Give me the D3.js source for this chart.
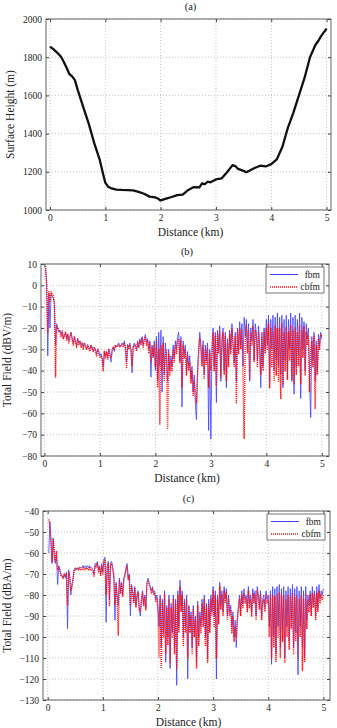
<!DOCTYPE html>
<html>
<head>
<meta charset="utf-8">
<script src="https://cdn.jsdelivr.net/npm/d3@7"></script>
<style>
  html, body { margin: 0; padding: 0; background: #fff; }
  svg { display: block; }
  text { font-family: "Liberation Serif", "DejaVu Serif", serif; fill: #222; }
</style>
</head>
<body>
<svg id="chart" width="337" height="728"></svg>
<script>
// Panel (a): surface profile
const profileKm = [0, 0.05, 0.1, 0.15, 0.2, 0.25, 0.3, 0.35, 0.4, 0.45, 0.5, 0.6, 0.7, 0.8, 0.9, 0.95, 1.0, 1.05,
  1.1, 1.2, 1.3, 1.4, 1.5, 1.6, 1.7, 1.8, 1.9, 1.95, 2.0, 2.1, 2.2, 2.3, 2.4, 2.5, 2.6, 2.7, 2.75, 2.8, 2.85, 2.9,
  3.0, 3.1, 3.2, 3.3, 3.35, 3.4, 3.5, 3.55, 3.6, 3.7, 3.8, 3.9, 4.0, 4.1, 4.2, 4.3, 4.4, 4.5, 4.6, 4.7, 4.8, 4.85, 4.9, 5.0];
const profileHeight = [1855, 1845, 1832, 1818, 1802, 1775, 1745, 1712, 1700, 1680, 1630, 1540, 1452, 1350, 1262, 1200, 1143, 1122,
  1115, 1107, 1105, 1104, 1103, 1095, 1085, 1070, 1066, 1060, 1050, 1060, 1068, 1078, 1080, 1105, 1120, 1118, 1140, 1135, 1148, 1145,
  1160, 1165, 1198, 1235, 1230, 1215, 1205, 1198, 1205, 1220, 1232, 1228, 1240, 1265, 1330, 1430, 1510, 1600, 1690, 1800, 1865, 1885, 1910, 1950];

// Panels (b) and (c): field samples every 0.02 km, starting at 0.02 km
const sampleStepKm = 0.02;
const fieldBfbm = [
  8, 1, -33, -4, -20, -4, -5, -6, -9, -28,
  -18, -20, -22, -21, -23, -22, -25, -24, -22, -25,
  -23, -26, -24, -22, -25, -27, -24, -26, -28, -25,
  -27, -26, -28, -27, -29, -27, -28, -30, -28, -29,
  -30, -28, -29, -31, -29, -30, -32, -30, -31, -33,
  -32, -34, -38, -31, -33, -31, -34, -30, -32, -36,
  -30, -29, -31, -28, -29, -28, -27, -29, -28, -27,
  -28, -26, -29, -36, -28, -29, -27, -30, -41, -29,
  -27, -28, -30, -26, -29, -25, -27, -24, -28, -25,
  -23, -27, -25, -30, -26, -43, -28, -34, -26, -40,
  -24, -45, -22, -38, -21, -50, -24, -42, -27, -35,
  -45, -30, -40, -33, -38, -28, -34, -26, -30, -24,
  -22, -35, -24, -57, -26, -32, -28, -40, -31, -38,
  -33, -44, -38, -50, -42, -55, -63, -40, -30, -22,
  -28, -36, -26, -42, -28, -35, -27, -68, -30, -72,
  -30, -20, -38, -22, -55, -21, -30, -19, -45, -25,
  -20, -40, -22, -48, -25, -35, -21, -30, -18, -27,
  -36, -22, -45, -20, -30, -17, -28, -18, -38, -15,
  -24, -16, -30, -18, -45, -20, -26, -16, -35, -18,
  -22, -35, -19, -28, -48, -22, -38, -20, -30, -16,
  -28, -14, -45, -16, -30, -14, -40, -15, -35, -13,
  -38, -15, -42, -14, -48, -16, -35, -14, -40, -16,
  -30, -13, -45, -15, -51, -14, -38, -16, -33, -13,
  -53, -15, -30, -17, -40, -18, -25, -20, -45, -62,
  -24, -35, -22, -45, -26, -40, -23, -28, -22, -25
];
const fieldBcbfm = [
  9, 0, -22, -3, -8, -3, -4, -5, -8, -43,
  -19, -20, -21, -22, -24, -21, -25, -23, -22, -26,
  -23, -27, -24, -22, -26, -28, -24, -27, -29, -25,
  -28, -26, -29, -27, -30, -27, -29, -30, -28, -30,
  -31, -28, -30, -31, -29, -31, -33, -30, -32, -34,
  -33, -35, -40, -31, -34, -31, -35, -30, -33, -34,
  -31, -29, -30, -28, -29, -28, -28, -29, -28, -28,
  -29, -27, -30, -39, -28, -30, -28, -31, -38, -29,
  -28, -29, -31, -27, -29, -26, -28, -25, -29, -26,
  -24, -28, -26, -32, -27, -36, -29, -33, -28, -38,
  -26, -48, -30, -65, -28, -40, -27, -45, -33, -30,
  -67, -32, -42, -35, -40, -30, -36, -28, -32, -26,
  -25, -36, -26, -48, -28, -34, -30, -42, -33, -40,
  -36, -46, -40, -52, -45, -50, -55, -42, -32, -25,
  -29, -38, -28, -44, -30, -37, -29, -48, -32, -40,
  -32, -22, -40, -24, -47, -23, -32, -21, -43, -27,
  -22, -42, -24, -45, -27, -38, -23, -32, -20, -29,
  -38, -24, -55, -22, -32, -20, -30, -21, -42, -72,
  -26, -19, -32, -21, -44, -22, -28, -19, -36, -21,
  -24, -38, -22, -30, -42, -24, -40, -22, -32, -20,
  -30, -18, -48, -20, -38, -22, -45, -19, -42, -20,
  -45, -20, -53, -18, -46, -22, -40, -20, -44, -22,
  -35, -19, -44, -21, -46, -20, -42, -22, -38, -19,
  -46, -21, -34, -19, -42, -22, -28, -24, -50, -30,
  -26, -38, -24, -58, -28, -42, -25, -30, -23, -24
];
const fieldCfbm = [
  -60, -45, -55, -65, -53, -62, -65, -61, -75, -66,
  -68, -70, -71, -72, -70, -72, -69, -96, -68, -71,
  -80, -75, -72, -68, -67, -68, -67, -68, -67, -67,
  -67, -66, -67, -66, -67, -66, -67, -66, -67, -67,
  -68, -70, -65, -66, -64, -68, -66, -70, -65, -69,
  -63, -62, -93, -66, -64, -82, -65, -64, -67, -72,
  -92, -74, -80, -85, -72, -78, -74, -80, -72, -70,
  -67, -65, -72, -70, -90, -75, -78, -83, -76, -85,
  -80, -78, -86, -90, -82, -78, -84, -80, -86, -74,
  -72, -74, -76, -78, -76, -79, -78, -82, -80, -85,
  -95, -80, -105, -82, -98, -78, -112, -85, -100, -80,
  -115, -84, -98, -80, -105, -82, -123, -78, -95, -73,
  -85, -78, -100, -82, -95, -80, -120, -85, -95, -88,
  -105, -85, -98, -90, -112, -83, -100, -88, -95, -82,
  -92, -80, -100, -84, -110, -82, -95, -80, -88, -76,
  -90, -78, -120, -80, -92, -74, -85, -78, -88, -76,
  -82, -77, -90, -80, -88, -85, -95, -88, -100, -92,
  -105, -90, -85, -80, -88, -78, -84, -77, -82, -80,
  -86, -76, -84, -80, -88, -77, -82, -78, -90, -76,
  -80, -85, -78, -90, -82, -80, -86, -78, -82, -80,
  -95, -78, -113, -76, -100, -77, -108, -76, -95, -75,
  -105, -77, -98, -76, -110, -78, -95, -76, -102, -77,
  -92, -75, -105, -77, -98, -76, -118, -78, -95, -76,
  -105, -78, -110, -76, -92, -80, -85, -78, -88, -76,
  -84, -78, -90, -76, -86, -75, -82, -78, -80, -77
];
const fieldCcbfm = [
  -44, -47, -54, -64, -53, -60, -64, -59, -68, -67,
  -68, -71, -71, -72, -70, -71, -70, -85, -69, -72,
  -78, -76, -73, -68, -68, -68, -67, -68, -67, -68,
  -68, -67, -68, -67, -68, -67, -68, -67, -68, -68,
  -69, -71, -66, -67, -65, -69, -67, -71, -66, -70,
  -64, -63, -80, -67, -65, -85, -66, -65, -68, -70,
  -85, -75, -82, -99, -73, -79, -75, -81, -73, -71,
  -68, -66, -73, -71, -85, -76, -79, -84, -77, -86,
  -81, -79, -87, -88, -83, -79, -85, -81, -87, -75,
  -73, -75, -77, -79, -77, -80, -79, -83, -82, -88,
  -110, -82, -115, -84, -100, -80, -108, -86, -104, -82,
  -112, -86, -100, -82, -108, -84, -115, -80, -98, -76,
  -88, -80, -104, -84, -98, -82, -110, -86, -98, -90,
  -108, -87, -100, -92, -115, -85, -104, -90, -98, -84,
  -95, -82, -104, -86, -112, -84, -98, -82, -90, -78,
  -95, -80, -110, -82, -94, -76, -87, -80, -90, -78,
  -84, -79, -92, -82, -90, -87, -98, -90, -102, -95,
  -100, -92, -87, -82, -90, -80, -86, -79, -84, -82,
  -88, -78, -86, -82, -90, -79, -84, -80, -92, -78,
  -82, -87, -80, -92, -84, -82, -88, -80, -84, -82,
  -100, -80, -110, -80, -105, -81, -112, -80, -100, -79,
  -110, -80, -102, -80, -112, -82, -100, -80, -106, -81,
  -96, -79, -108, -81, -102, -80, -110, -82, -100, -80,
  -116, -82, -112, -80, -96, -82, -88, -80, -90, -79,
  -86, -80, -92, -79, -88, -78, -84, -80, -82, -80
];

const distTicks = [0, 1, 2, 3, 4, 5];
const heightTicks = [1000, 1200, 1400, 1600, 1800, 2000];
const fieldBTicks = [-80, -70, -60, -50, -40, -30, -20, -10, 0, 10];
const fieldCTicks = [-130, -120, -110, -100, -90, -80, -70, -60, -50, -40];
const seriesNames = ["fbm", "cbfm"];

const svg = d3.select("#chart");

function sampled(values) {
  return values.map((v, i) => ({ x: (i + 1) * sampleStepKm, y: v }));
}

function drawPanel(p) {
  const g = svg.append("g");
  const x = d3.scaleLinear().domain(p.xDomain).range([p.left, p.right]);
  const y = d3.scaleLinear().domain(p.yDomain).range([p.bottom, p.top]);

  // dotted grid
  g.append("g").selectAll("line").data(distTicks).join("line")
    .attr("x1", d => x(d)).attr("x2", d => x(d))
    .attr("y1", p.top).attr("y2", p.bottom)
    .attr("stroke", "#aaa").attr("stroke-width", 0.7).attr("stroke-dasharray", "1,2");
  g.append("g").selectAll("line").data(p.yTicks).join("line")
    .attr("x1", p.left).attr("x2", p.right)
    .attr("y1", d => y(d)).attr("y2", d => y(d))
    .attr("stroke", "#aaa").attr("stroke-width", 0.7).attr("stroke-dasharray", "1,2");

  const clipId = "clip-" + p.name;
  svg.append("clipPath").attr("id", clipId).append("rect")
    .attr("x", p.left).attr("y", p.top).attr("width", p.right - p.left).attr("height", p.bottom - p.top);

  const line = d3.line().x(d => x(d.x)).y(d => y(d.y));
  const plot = g.append("g").attr("clip-path", `url(#${clipId})`);
  p.series.forEach(s => {
    plot.append("path").datum(s.data)
      .attr("fill", "none")
      .attr("stroke", s.color)
      .attr("stroke-width", s.width)
      .attr("stroke-dasharray", s.dash || null)
      .attr("stroke-linejoin", "round")
      .attr("d", line);
  });

  // axes, ticks pointing inward like matlab
  const ax = (gen, tr) => g.append("g").attr("transform", tr).call(gen)
    .call(a => a.select(".domain").remove())
    .call(a => a.selectAll(".tick line").attr("stroke", "#444"))
    .call(a => a.selectAll("text").attr("font-size", 9.5).attr("fill", "#222")
      .style("font-family", '"Liberation Serif", serif'));
  ax(d3.axisBottom(x).tickValues(distTicks).tickSize(-3).tickPadding(4).tickFormat(d3.format("d")), `translate(0,${p.bottom})`);
  ax(d3.axisTop(x).tickValues(distTicks).tickSize(-3).tickFormat(""), `translate(0,${p.top})`);
  ax(d3.axisLeft(y).tickValues(p.yTicks).tickSize(-3).tickPadding(4).tickFormat(d3.format("d")), `translate(${p.left},0)`);
  ax(d3.axisRight(y).tickValues(p.yTicks).tickSize(-3).tickFormat(""), `translate(${p.right},0)`);

  g.append("rect")
    .attr("x", p.left).attr("y", p.top).attr("width", p.right - p.left).attr("height", p.bottom - p.top)
    .attr("fill", "none").attr("stroke", "#555").attr("stroke-width", 0.9);

  g.append("text").attr("x", (p.left + p.right) / 2 + 2).attr("y", p.top - 9)
    .attr("text-anchor", "middle").attr("font-size", 10.5).text(p.title);
  g.append("text").attr("x", (p.left + p.right) / 2 + 2).attr("y", p.bottom + 26)
    .attr("text-anchor", "middle").attr("font-size", 11.5).text("Distance (km)");
  g.append("text")
    .attr("transform", `translate(${p.yLabelX},${(p.top + p.bottom) / 2}) rotate(-90)`)
    .attr("text-anchor", "middle").attr("font-size", 11.5).text(p.yLabel);

  if (p.legend) {
    const lg = g.append("g").attr("transform", `translate(${p.right - 63},${p.top + 3})`);
    lg.append("rect").attr("width", 58).attr("height", 26)
      .attr("fill", "#fff").attr("stroke", "#555").attr("stroke-width", 0.8);
    p.series.forEach((s, i) => {
      const yy = 7.5 + i * 12.5;
      lg.append("line").attr("x1", 4).attr("x2", 32).attr("y1", yy).attr("y2", yy)
        .attr("stroke", s.color).attr("stroke-width", s.width + 0.2).attr("stroke-dasharray", s.dash || null);
      lg.append("text").attr("x", 54).attr("y", yy + 3.3).attr("text-anchor", "end")
        .attr("font-size", 9.5).text(seriesNames[i]);
    });
  }
}

drawPanel({
  name: "a", title: "(a)", yLabel: "Surface Height (m)", yLabelX: 14,
  left: 46, right: 331, top: 19, bottom: 210,
  xDomain: [-0.072, 5.08], yDomain: [1000, 2000], yTicks: heightTicks,
  series: [{ data: profileKm.map((d, i) => ({ x: d, y: profileHeight[i] })), color: "#111", width: 2.3 }]
});

drawPanel({
  name: "b", title: "(b)", yLabel: "Total Field (dBV/m)", yLabelX: 11, legend: true,
  left: 41, right: 329, top: 264, bottom: 456,
  xDomain: [-0.062, 5.13], yDomain: [-80, 10], yTicks: fieldBTicks,
  series: [
    { data: sampled(fieldBfbm), color: "#4040ff", width: 0.8 },
    { data: sampled(fieldBcbfm), color: "#ff1010", width: 1.5, dash: "1,1" }
  ]
});

drawPanel({
  name: "c", title: "(c)", yLabel: "Total Field (dBA/m)", yLabelX: 11, legend: true,
  left: 43, right: 330, top: 511, bottom: 700,
  xDomain: [-0.085, 5.12], yDomain: [-130, -40], yTicks: fieldCTicks,
  series: [
    { data: sampled(fieldCfbm), color: "#4040ff", width: 0.8 },
    { data: sampled(fieldCcbfm), color: "#ff1010", width: 1.5, dash: "1,1" }
  ]
});
</script>
</body>
</html>
